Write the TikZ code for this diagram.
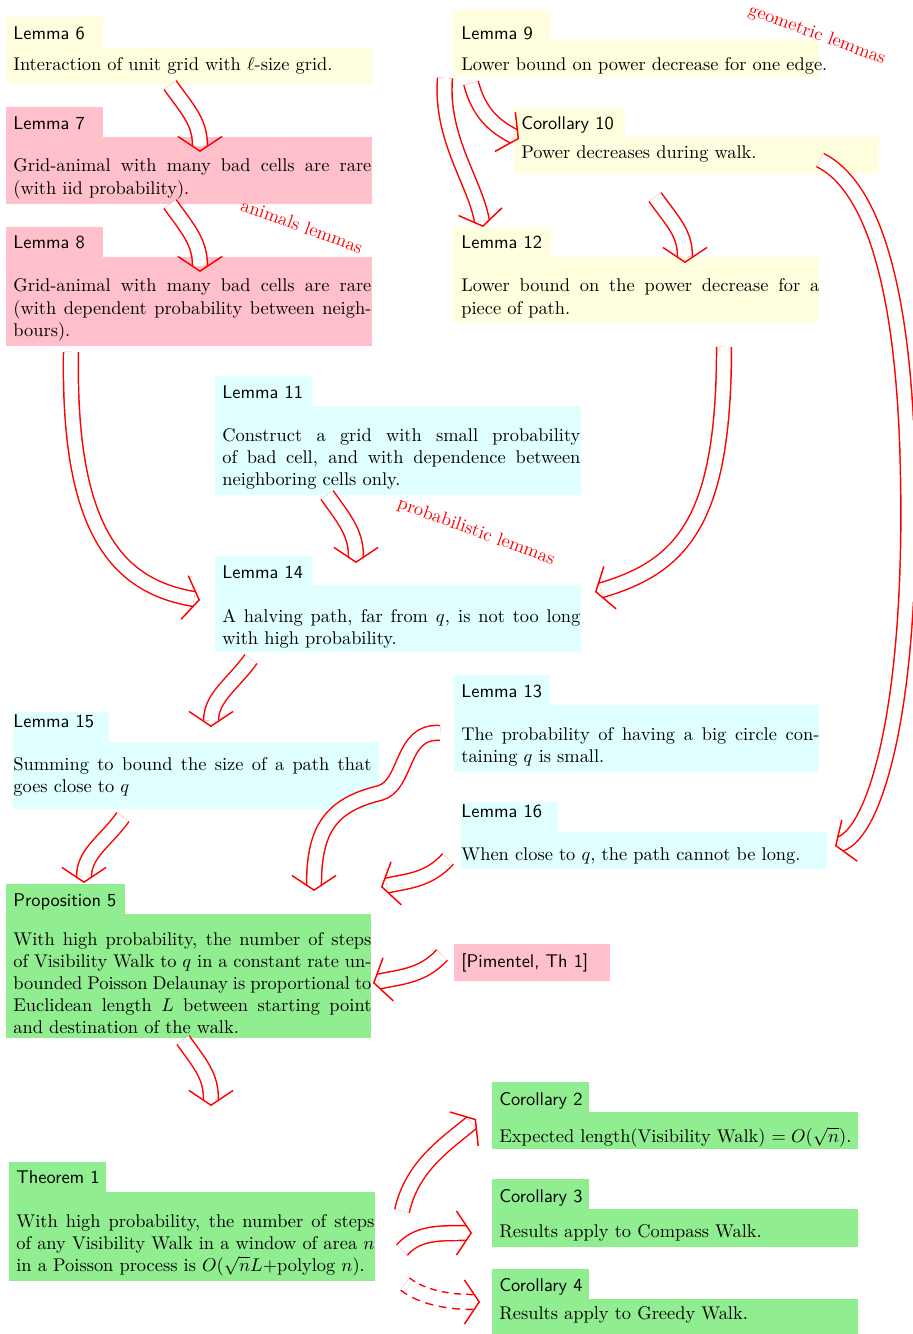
\documentclass[tikz,border=0pt]{standalone}
\usetikzlibrary{arrows.meta,calc,fit}
\definecolor{lyel}{RGB}{255,255,224}
\definecolor{lpink}{RGB}{255,192,203}
\definecolor{lcyan}{RGB}{224,255,255}
\definecolor{lgreen}{RGB}{144,238,144}
\pgfdeclarearrow{
  name = DV,
  parameters = {\the\pgfarrowlength,\the\pgfarrowwidth},
  setup code = {
    \pgfarrowssettipend{0.45pt}
    \pgfarrowssetlineend{-2.9pt}
    \pgfarrowssetbackend{-\pgfarrowlength}
    \pgfarrowssavethe\pgfarrowlength
    \pgfarrowssavethe\pgfarrowwidth
  },
  drawing code = {
    \pgfsetlinewidth{0.8pt}
    \pgfsetdash{}{0pt}
    \pgfpathmoveto{\pgfqpoint{-\pgfarrowlength}{.5\pgfarrowwidth}}
    \pgfpathlineto{\pgfpointorigin}
    \pgfpathlineto{\pgfqpoint{-\pgfarrowlength}{-.5\pgfarrowwidth}}
    \pgfusepathqstroke
  },
  defaults = { length = 8pt, width = 24pt }
}
\begin{document}
\begin{tikzpicture}[x=0.5435pt,y=-0.5435pt,
  bg/.style={inner sep=0pt, outer sep=0pt, draw=none},
  ttl/.style={anchor=base west, inner sep=0pt, font=\sffamily},
  txt/.style={anchor=base west, inner sep=0pt},
  ptxt/.style={anchor=base west, inner sep=0pt, text width=194.6pt, align=justify},
  imp/.style={draw=red, line width=0.8pt, double=white, double distance=7.3pt, -{DV[length=8pt,width=24pt]}},
  dimpout/.style={draw=red, line width=8.9pt, dash pattern=on 4pt off 3pt, -{DV[length=8pt,width=24pt]}},
  dimpin/.style={draw=white, line width=7.3pt, shorten >=3.35pt},
  lbl/.style={text=red, rotate=-20, inner sep=0pt}
]
\useasboundingbox (0,0) rectangle (913,1334);

% Lemma 6
\node[bg, fill=lyel, fit={(6,17)(103,49)}] (L6t) {};
\node[bg, fill=lyel, fit={(6,48)(372,84)}] (L6b) {};
\node[ttl] (L6h) at (13,40) {Lemma 6};
\node[txt] (L6x) at (13,71) {Interaction of unit grid with $\ell$-size grid.};
% Lemma 7
\node[bg, fill=lpink, fit={(6,107)(103,138)}] (L7t) {};
\node[bg, fill=lpink, fit={(6,137)(372,204)}] (L7b) {};
\node[ttl] (L7h) at (13,130) {Lemma 7};
\node[ptxt] (L7x) at (13,172) {Grid-animal with many bad cells are rare (with iid probability).};
% Lemma 8
\node[bg, fill=lpink, fit={(6,227)(103,258)}] (L8t) {};
\node[bg, fill=lpink, fit={(6,257)(372,346)}] (L8b) {};
\node[ttl] (L8h) at (13,249) {Lemma 8};
\node[ptxt] (L8x) at (13,292) {Grid-animal with many bad cells are rare (with dependent probability between neighbours).};
% Lemma 9
\node[bg, fill=lyel, fit={(453,10)(551,41)}] (L9t) {};
\node[bg, fill=lyel, fit={(453,40)(819,77)}] (L9b) {};
\node[ttl] (L9h) at (461,40) {Lemma 9};
\node[txt] (L9x) at (461,71) {Lower bound on power decrease for one edge.};
% Corollary 10
\node[bg, fill=lyel, fit={(514,108)(625,138)}] (C10t) {};
\node[bg, fill=lyel, fit={(514,137)(879,174)}] (C10b) {};
\node[ttl] (C10h) at (521,130) {Corollary 10};
\node[txt] (C10x) at (521,159) {Power decreases during walk.};
% Lemma 12
\node[bg, fill=lyel, fit={(453,227)(551,258)}] (L12t) {};
\node[bg, fill=lyel, fit={(453,257)(819,323)}] (L12b) {};
\node[ttl] (L12h) at (461,249) {Lemma 12};
\node[ptxt] (L12x) at (461,292) {Lower bound on the power decrease for a piece of path.};
% Lemma 11
\node[bg, fill=lcyan, fit={(215,376)(312,407)}] (L11t) {};
\node[bg, fill=lcyan, fit={(215,406)(581,495)}] (L11b) {};
\node[ttl] (L11h) at (222,398) {Lemma 11};
\node[ptxt] (L11x) at (222,441) {Construct a grid with small probability of bad cell, and with dependence between neighboring cells only.};
% Lemma 14
\node[bg, fill=lcyan, fit={(215,556)(312,586)}] (L14t) {};
\node[bg, fill=lcyan, fit={(215,585)(581,652)}] (L14b) {};
\node[ttl] (L14h) at (222,578) {Lemma 14};
\node[ptxt] (L14x) at (222,622) {A halving path, far from $q$, is not too long with high probability.};
% Lemma 13
\node[bg, fill=lcyan, fit={(454,675)(550,706)}] (L13t) {};
\node[bg, fill=lcyan, fit={(454,705)(819,772)}] (L13b) {};
\node[ttl] (L13h) at (461,697) {Lemma 13};
\node[ptxt] (L13x) at (461,740) {The probability of having a big circle containing $q$ is small.};
% Lemma 15
\node[bg, fill=lcyan, fit={(13,712)(109,743)}] (L15t) {};
\node[bg, fill=lcyan, fit={(13,742)(379,809)}] (L15b) {};
\node[ttl] (L15h) at (13,727) {Lemma 15};
\node[ptxt] (L15x) at (13,770) {Summing to bound the size of a path that goes close to $q$};
% Lemma 16
\node[bg, fill=lcyan, fit={(461,802)(558,833)}] (L16t) {};
\node[bg, fill=lcyan, fit={(461,832)(827,869)}] (L16b) {};
\node[ttl] (L16h) at (461,817) {Lemma 16};
\node[txt] (L16x) at (461,860) {When close to $q$, the path cannot be long.};
% Proposition 5
\node[bg, fill=lgreen, fit={(6,884)(125,915)}] (P5t) {};
\node[bg, fill=lgreen, fit={(6,914)(371,1038)}] (P5b) {};
\node[ttl] (P5h) at (13,906) {Proposition 5};
\node[ptxt] (P5x) at (13,945) {With high probability, the number of steps of Visibility Walk to $q$ in a constant rate unbounded Poisson Delaunay is proportional to Euclidean length $L$ between starting point and destination of the walk.};
% Pimentel
\node[bg, fill=lpink, fit={(454,944)(610,981)}] (Pim) {};
\node[ttl] (Pimx) at (461,967) {[Pimentel, Th 1]};
% Corollary 2
\node[bg, fill=lgreen, fit={(492,1082)(589,1113)}] (C2t) {};
\node[bg, fill=lgreen, fit={(492,1112)(858,1149)}] (C2b) {};
\node[ttl] (C2h) at (499,1105) {Corollary 2};
\node[txt] (C2x) at (499,1142) {Expected length(Visibility Walk) $= O(\sqrt{n})$.};
% Theorem 1
\node[bg, fill=lgreen, fit={(9,1162)(106,1193)}] (T1t) {};
\node[bg, fill=lgreen, fit={(9,1192)(375,1281)}] (T1b) {};
\node[ttl] (T1h) at (16,1183) {Theorem 1};
\node[ptxt] (T1x) at (16,1227) {With high probability, the number of steps\linebreak of any Visibility Walk in a window of area $n$\linebreak in a Poisson process is $O(\sqrt{n}L$+polylog~$n)$.};
% Corollary 3
\node[bg, fill=lgreen, fit={(492,1179)(589,1210)}] (C3t) {};
\node[bg, fill=lgreen, fit={(492,1209)(858,1247)}] (C3b) {};
\node[ttl] (C3h) at (499,1202) {Corollary 3};
\node[txt] (C3x) at (499,1237) {Results apply to Compass Walk.};
% Corollary 4
\node[bg, fill=lgreen, fit={(492,1269)(589,1300)}] (C4t) {};
\node[bg, fill=lgreen, fit={(492,1299)(858,1337)}] (C4b) {};
\node[ttl] (C4h) at (499,1291) {Corollary 4};
\node[txt] (C4x) at (499,1319) {Results apply to Greedy Walk.};

% labels
\node[lbl] (labA) at (302,226) {animals lemmas};
\node[lbl] (labG) at (817,35) {geometric lemmas};
\node[lbl] (labP) at (476,532) {probabilistic lemmas};

% waypoints
\coordinate (m9) at (908,480);
\coordinate (m12) at (380,793);

% connectors
\draw[imp] ($(L6b.north west)+(164,37)$) .. controls +(18,25) and +(0,-30) .. ($(L7b.north west)+(194,15)$);
\draw[imp] ($(L7b.north west)+(164,67)$) .. controls +(18,25) and +(0,-30) .. ($(L8b.north west)+(194,15)$);
\draw[imp] ($(L8b.north west)+(65,95)$) .. controls +(-3,175) and +(-85,-14) .. ($(L14b.north west)+(-15,15)$);
\draw[imp] ($(L12b.north west)+(271,90)$) .. controls +(0,170) and +(90,-26) .. ($(L14b.north west)+(380,7)$);
\draw[imp] ($(L11b.north west)+(112,89)$) .. controls +(18,25) and +(0,-30) .. ($(L14b.north west)+(141,-22)$);
\draw[imp] ($(L9b.north west)+(18,43)$) .. controls +(8,30) and +(-25,-13) .. ($(C10b.north west)+(5,2)$);
\draw[imp] ($(L9b.north west)+(-8,38)$) .. controls +(-5,60) and +(-8,-45) .. ($(L12b.north west)+(30,-30)$);
\draw[imp] ($(C10b.north west)+(141,60)$) .. controls +(18,25) and +(0,-30) .. ($(L12b.north west)+(232,6)$);
\draw[imp] ($(C10b.north west)+(306,23)$) .. controls +(50,25) and +(-3,-200) .. (m9) .. controls +(4,230) and +(40,-15) .. ($(L16b.north west)+(374,14)$);
\draw[imp] ($(L14b.north west)+(36,74)$) .. controls +(-18,25) and +(0,-30) .. ($(L15b.north west)+(198,-15)$);
\draw[imp] ($(L15b.north west)+(110,75)$) .. controls +(-18,25) and +(0,-30) .. ($(P5b.north west)+(78,-31)$);
\draw[imp] ($(L13b.north west)+(-14,28)$) .. controls +(-40,-3) and +(28,-8) .. (m12) .. controls +(-50,12) and +(0,-61) .. ($(P5b.north west)+(308,-23)$);
\draw[imp] ($(L16b.north west)+(-13,27)$) .. controls +(-20,22) and +(25,-6) .. ($(P5b.north west)+(375,-27)$);
\draw[imp] ($(Pim.north west)+(-12,11)$) .. controls +(-20,22) and +(25,-6) .. ($(P5b.north west)+(367,69)$);
\draw[imp] ($(P5b.north west)+(177,126)$) .. controls +(18,25) and +(0,-30) .. ($(T1b.north west)+(202,-86)$);
\draw[imp] ($(T1b.north west)+(393,19)$) .. controls +(10,-45) and +(-30,25) .. ($(C2b.north west)+(-16,7)$);
\draw[imp] ($(T1b.north west)+(393,58)$) .. controls +(15,-17) and +(-35,0) .. ($(C3b.north west)+(-20,24)$);
\draw[dimpout] ($(T1b.north west)+(396,92)$) .. controls +(18,14) and +(-30,0) .. ($(C4b.north west)+(-12,3)$);
\draw[dimpin] ($(T1b.north west)+(396,92)$) .. controls +(18,14) and +(-30,0) .. ($(C4b.north west)+(-12,3)$);
\end{tikzpicture}
\end{document}
